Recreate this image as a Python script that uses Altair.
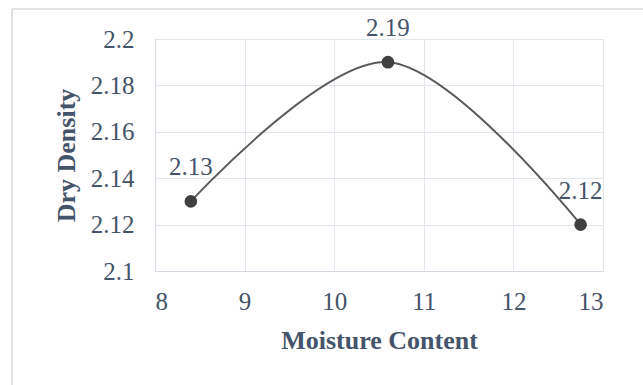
import altair as alt
import pandas as pd

moisture = [8.4, 10.6, 12.75]
density = [2.13, 2.19, 2.12]
point_labels = ["2.13", "2.19", "2.12"]
x_ticks = [8, 9, 10, 11, 12, 13]
y_ticks = [2.1, 2.12, 2.14, 2.16, 2.18, 2.2]

df = pd.DataFrame({"m": moisture, "d": density, "lab": point_labels})

FONT = "Liberation Serif"
TXT = "#44546A"
FS = 25

x = alt.X("m:Q",
          scale=alt.Scale(domain=[8, 13], nice=False, zero=False),
          axis=alt.Axis(values=x_ticks, title="Moisture Content", format="d",
                        labelPadding=18, titlePadding=13))
y = alt.Y("d:Q",
          scale=alt.Scale(domain=[2.1, 2.2], nice=False, zero=False),
          axis=alt.Axis(values=y_ticks, title="Dry Density", format="~g",
                        labelPadding=21, titlePadding=11))

base = alt.Chart(df)
line = base.mark_line(interpolate="cardinal", color="#595959", strokeWidth=2).encode(x=x, y=y)
pts = base.mark_circle(size=160, color="#404040", opacity=1).encode(x=x, y=y)
txt = base.mark_text(dy=-34, fontSize=FS, font=FONT, color=TXT).encode(x=x, y=y, text="lab:N")

frame_df = pd.DataFrame({"a": [0]})
left_border = alt.Chart(frame_df).mark_rule(color="#E3E3E3", strokeWidth=2).encode(
    x=alt.value(-143), y=alt.value(-30), y2=alt.value(400))
top_border = alt.Chart(frame_df).mark_rule(color="#E3E3E3", strokeWidth=2).encode(
    x=alt.value(-143), x2=alt.value(520), y=alt.value(-30))

chart = alt.layer(left_border, top_border, line, pts, txt).properties(
    width=448, height=232,
    autosize=alt.AutoSizeParams(type="none"),
    padding={"left": 155, "top": 39, "right": 40, "bottom": 114},
    background="white",
).configure_view(stroke=None).configure_axis(
    grid=True, gridColor="#E1E5EC", gridWidth=1,
    domainColor="#D5DAE2", domainWidth=1,
    ticks=False,
    labelFont=FONT, labelFontSize=FS, labelColor=TXT,
    titleFont=FONT, titleFontSize=26, titleFontWeight="bold", titleColor=TXT,
)

chart.save("out.html", embed_options={"renderer": "svg", "actions": False})
